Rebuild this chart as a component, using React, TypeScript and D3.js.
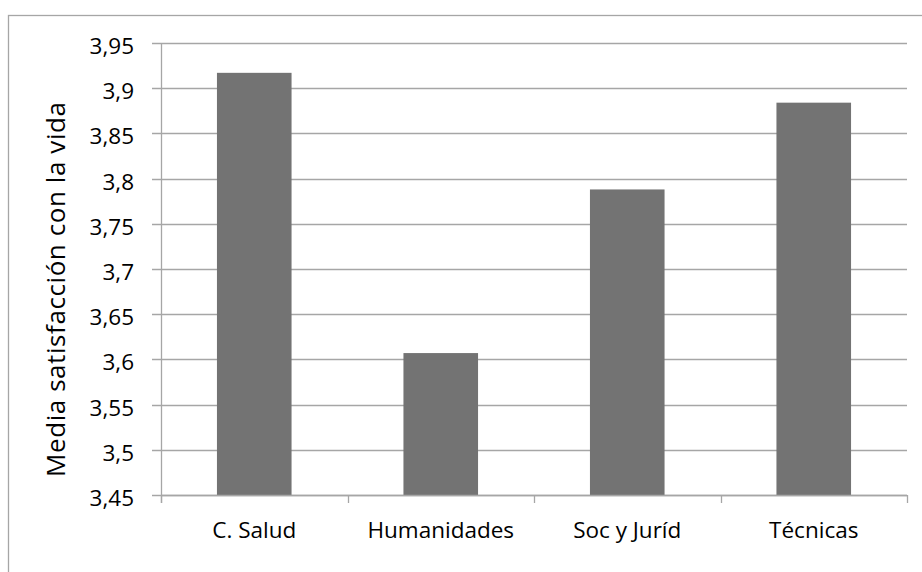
import React from "react";
import * as d3 from "d3";

// Mean life-satisfaction score by field of study
const categories = ["C. Salud", "Humanidades", "Soc y Juríd", "Técnicas"];
const values = [3.917, 3.607, 3.788, 3.884];
const yTicks = [3.45, 3.5, 3.55, 3.6, 3.65, 3.7, 3.75, 3.8, 3.85, 3.9, 3.95];
const yTitle = "Media satisfacción con la vida";

const W = 922;
const H = 572;
const plot = { left: 161, right: 907, top: 43, bottom: 495 };
const FONT = "'Open Sans', sans-serif";
const GRID = "#a6a6a6";
const BAR = "#737373";

const fmt = (v: number) => String(+v.toFixed(2)).replace(".", ",");

export default function App() {
  const y = d3.scaleLinear().domain([3.45, 3.95]).range([plot.bottom, plot.top]);
  const x = d3
    .scaleBand<string>()
    .domain(categories)
    .range([plot.left, plot.right])
    .paddingInner(0.6)
    .paddingOuter(0.3);
  const step = x.step();
  const boundaries = d3.range(categories.length + 1).map((i) => plot.left + i * step);

  return (
    <svg
      width={W}
      height={H}
      style={{ position: "absolute", left: 0, top: 0, background: "#fff" }}
      fontFamily={FONT}
    >
      {/* chart frame */}
      <rect x={8.5} y={15.5} width={W + 20} height={H + 20} fill="#fff" stroke={GRID} strokeWidth={1.3} />

      {/* horizontal gridlines with left tick marks */}
      {yTicks.map((t) => (
        <line
          key={t}
          x1={plot.left - 9}
          x2={plot.right}
          y1={Math.round(y(t)) + 0.5}
          y2={Math.round(y(t)) + 0.5}
          stroke={GRID}
          strokeWidth={1.3}
        />
      ))}

      {/* bars */}
      {categories.map((c, i) => (
        <rect
          key={c}
          x={x(c)!}
          y={y(values[i])}
          width={x.bandwidth()}
          height={plot.bottom - y(values[i])}
          fill={BAR}
        />
      ))}

      {/* value axis line */}
      <line x1={plot.left + 0.5} x2={plot.left + 0.5} y1={plot.top} y2={plot.bottom + 8} stroke={GRID} strokeWidth={1.3} />
      {/* category axis line and ticks */}
      <line x1={plot.left} x2={plot.right} y1={plot.bottom + 0.5} y2={plot.bottom + 0.5} stroke={GRID} strokeWidth={1.3} />
      {boundaries.map((b, i) => (
        <line
          key={i}
          x1={Math.round(b) + 0.5}
          x2={Math.round(b) + 0.5}
          y1={plot.bottom}
          y2={plot.bottom + 8}
          stroke={GRID}
          strokeWidth={1.3}
        />
      ))}

      {/* y tick labels */}
      {yTicks.map((t) => (
        <text key={t} x={134} y={y(t) + 11} textAnchor="end" fontSize={22.5} fill="#000">
          {fmt(t)}
        </text>
      ))}

      {/* category labels */}
      {categories.map((c) => (
        <text key={c} x={x(c)! + x.bandwidth() / 2} y={538} textAnchor="middle" fontSize={22.5} fill="#000">
          {c}
        </text>
      ))}

      {/* y axis title */}
      <text
        transform="translate(65,289.5) rotate(-90)"
        textAnchor="middle"
        fontSize={26}
        textLength={375}
        lengthAdjust="spacing"
        fill="#000"
      >
        {yTitle}
      </text>
    </svg>
  );
}
